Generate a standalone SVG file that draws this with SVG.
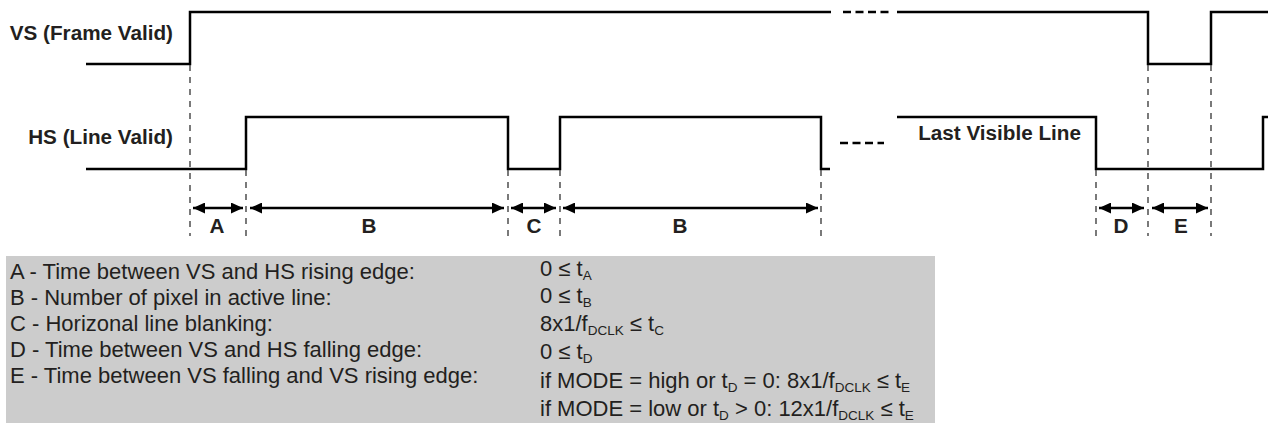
<svg xmlns="http://www.w3.org/2000/svg" width="1268" height="423" viewBox="0 0 1268 423">
<style>
.sig{fill:none;stroke:#000;stroke-width:2.5;stroke-linejoin:miter}
.brk{fill:none;stroke:#000;stroke-width:2.5;stroke-dasharray:8 4.5}
.ref{fill:none;stroke:#333;stroke-width:1.3;stroke-dasharray:6 6}
.dim{fill:none;stroke:#000;stroke-width:2.5}
.lbl{font-family:"Liberation Sans",Arial,sans-serif;font-weight:bold;font-size:20.7px;fill:#231f20}
.leg{font-family:"Liberation Sans",Arial,sans-serif;font-size:22px;fill:#231f20}
.sub{font-size:13.5px}
</style>
<defs>
<marker id="ah" viewBox="0 0 12 11" refX="12" refY="5.5" markerWidth="12" markerHeight="11" markerUnits="userSpaceOnUse" orient="auto-start-reverse">
<path d="M0,0 L12,5.5 L0,11 Z" fill="#000"/>
</marker>
</defs>
<rect width="1268" height="423" fill="#fff"/>

<g id="vs-signal">
<text class="lbl" x="173" y="40" text-anchor="end">VS (Frame Valid)</text>
<polyline class="sig" points="86,64 190,64 190,12 831,12"/>
<line class="brk" x1="843" y1="12" x2="889" y2="12"/>
<polyline class="sig" points="897,12 1148,12 1148,64 1211,64 1211,12 1268,12"/>
</g>

<g id="hs-signal">
<text class="lbl" x="173" y="144" text-anchor="end">HS (Line Valid)</text>
<polyline class="sig" points="86,169 246,169 246,117 508,117 508,169 560,169 560,117 821,117 821,169 830,169"/>
<line class="brk" x1="840" y1="143" x2="884" y2="143"/>
<polyline class="sig" points="897,117 1096,117 1096,169 1263,169 1263,117 1268,117"/>
<text class="lbl" x="1081" y="140" text-anchor="end">Last Visible Line</text>
</g>

<g id="connectors">
<line class="ref" x1="190" y1="65" x2="190" y2="236"/>
<line class="ref" x1="246" y1="170" x2="246" y2="236"/>
<line class="ref" x1="508" y1="170" x2="508" y2="236"/>
<line class="ref" x1="560" y1="170" x2="560" y2="236"/>
<line class="ref" x1="821" y1="170" x2="821" y2="236"/>
<line class="ref" x1="1096" y1="170" x2="1096" y2="236"/>
<line class="ref" x1="1148" y1="65" x2="1148" y2="236"/>
<line class="ref" x1="1211" y1="65" x2="1211" y2="236"/>
<line class="dim" x1="193" y1="208" x2="243" y2="208" marker-start="url(#ah)" marker-end="url(#ah)"/>
<line class="dim" x1="250" y1="208" x2="504" y2="208" marker-start="url(#ah)" marker-end="url(#ah)"/>
<line class="dim" x1="511" y1="208" x2="556" y2="208" marker-start="url(#ah)" marker-end="url(#ah)"/>
<line class="dim" x1="563" y1="208" x2="818" y2="208" marker-start="url(#ah)" marker-end="url(#ah)"/>
<line class="dim" x1="1099" y1="208" x2="1144" y2="208" marker-start="url(#ah)" marker-end="url(#ah)"/>
<line class="dim" x1="1152" y1="208" x2="1208" y2="208" marker-start="url(#ah)" marker-end="url(#ah)"/>
</g>

<g id="interval-labels">
<text class="lbl" x="217" y="233" text-anchor="middle">A</text>
<text class="lbl" x="369" y="233" text-anchor="middle">B</text>
<text class="lbl" x="534" y="233" text-anchor="middle">C</text>
<text class="lbl" x="680" y="233" text-anchor="middle">B</text>
<text class="lbl" x="1121" y="233" text-anchor="middle">D</text>
<text class="lbl" x="1181" y="233" text-anchor="middle">E</text>
</g>

<g id="legend">
<rect x="6" y="256" width="929" height="167" fill="#cccccc"/>
<text class="leg" x="10" y="279">A - Time between VS and HS rising edge:</text>
<text class="leg" x="10" y="305">B - Number of pixel in active line:</text>
<text class="leg" x="10" y="331">C - Horizonal line blanking:</text>
<text class="leg" x="10" y="357">D - Time between VS and HS falling edge:</text>
<text class="leg" x="10" y="383">E - Time between VS falling and VS rising edge:</text>
<text class="leg" x="540" y="276">0 ≤ t<tspan class="sub" dy="4">A</tspan></text>
<text class="leg" x="540" y="303">0 ≤ t<tspan class="sub" dy="4">B</tspan></text>
<text class="leg" x="540" y="331">8x1/f<tspan class="sub" dy="4">DCLK</tspan><tspan dy="-4"> ≤ t</tspan><tspan class="sub" dy="4">C</tspan></text>
<text class="leg" x="540" y="359">0 ≤ t<tspan class="sub" dy="4">D</tspan></text>
<text class="leg" x="540" y="388">if MODE = high or t<tspan class="sub" dy="4">D</tspan><tspan dy="-4"> = 0: 8x1/f</tspan><tspan class="sub" dy="4">DCLK</tspan><tspan dy="-4"> ≤ t</tspan><tspan class="sub" dy="4">E</tspan></text>
<text class="leg" x="540" y="416">if MODE = low or t<tspan class="sub" dy="4">D</tspan><tspan dy="-4"> &gt; 0: 12x1/f</tspan><tspan class="sub" dy="4">DCLK</tspan><tspan dy="-4"> ≤ t</tspan><tspan class="sub" dy="4">E</tspan></text>
</g>
</svg>
